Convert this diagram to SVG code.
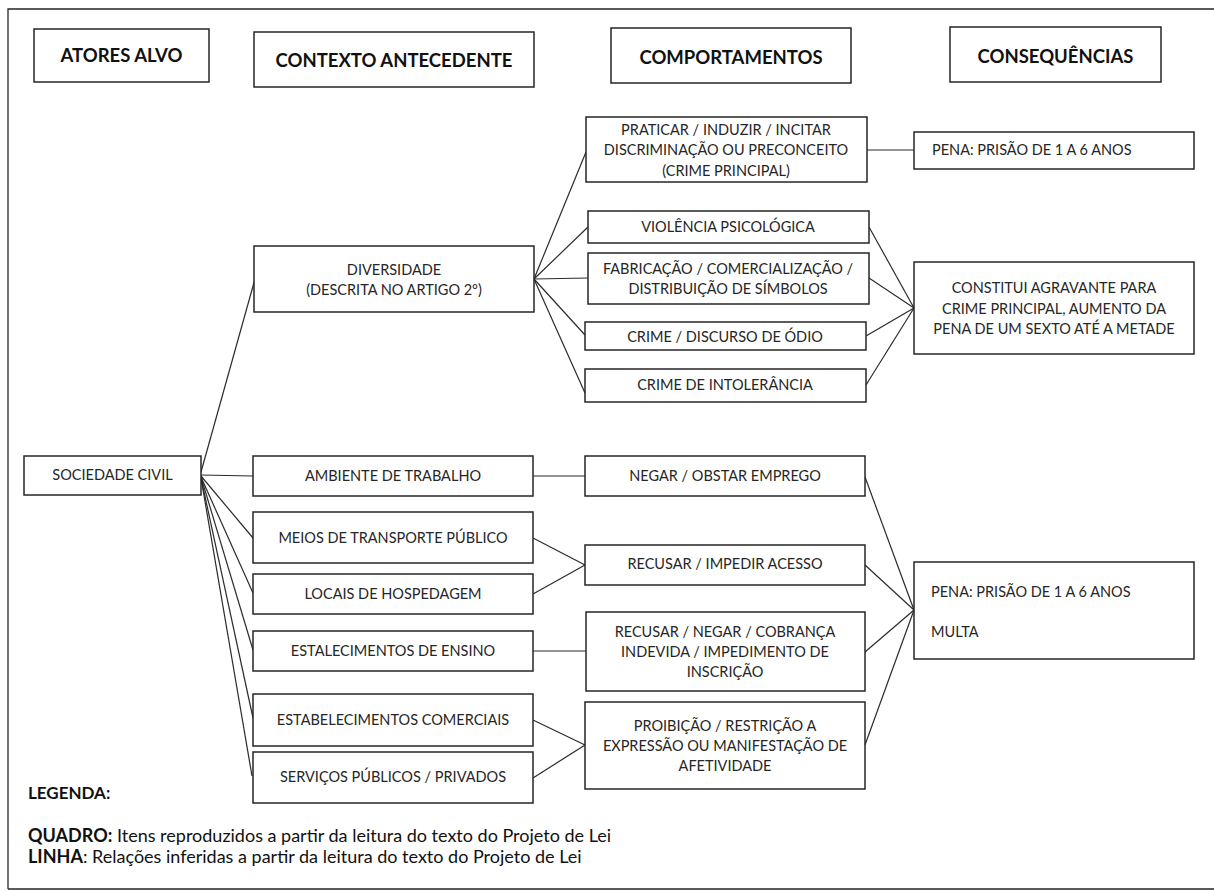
<svg xmlns="http://www.w3.org/2000/svg" width="1214" height="891" viewBox="0 0 1214 891">
<style>
.bg{fill:#fff}
.box{fill:#fff;stroke:#262626;stroke-width:1.5}
.frame{fill:none;stroke:#262626;stroke-width:1.3}
.ln{fill:none;stroke:#2b2b2b;stroke-width:1.2}
.t{font-family:"Lato","Liberation Sans",sans-serif;font-size:14.5px;fill:#262626;text-anchor:middle}
.tl{text-anchor:start}
.h{font-family:"Lato","Liberation Sans",sans-serif;font-size:18.5px;font-weight:bold;fill:#111;text-anchor:middle}
.lg{font-family:"Lato","Liberation Sans",sans-serif;font-size:18px;fill:#111}
.lgh{font-family:"Lato","Liberation Sans",sans-serif;font-size:17px;font-weight:bold;fill:#111}
.b{font-weight:bold}
</style>
<rect class="bg" x="0" y="0" width="1214" height="891"/>
<path class="frame" d="M8,889 V9 H1214 M8,889 H1214"/>

<g id="connectors">
<line class="ln" x1="201" y1="472" x2="255" y2="279"/>
<line class="ln" x1="201" y1="475" x2="253" y2="476"/>
<line class="ln" x1="201" y1="476" x2="253" y2="538"/>
<line class="ln" x1="201" y1="477" x2="253" y2="593"/>
<line class="ln" x1="201" y1="477" x2="253" y2="650"/>
<line class="ln" x1="201" y1="478" x2="253" y2="718"/>
<line class="ln" x1="201" y1="478" x2="252" y2="776"/>
<line class="ln" x1="534" y1="279" x2="586" y2="152"/>
<line class="ln" x1="534" y1="279" x2="588" y2="227"/>
<line class="ln" x1="534" y1="279" x2="588" y2="278"/>
<line class="ln" x1="534" y1="279" x2="585" y2="335"/>
<line class="ln" x1="534" y1="279" x2="585" y2="393"/>
<line class="ln" x1="867" y1="150" x2="914" y2="150"/>
<line class="ln" x1="869" y1="227" x2="914" y2="308"/>
<line class="ln" x1="869" y1="278" x2="914" y2="308"/>
<line class="ln" x1="866" y1="336" x2="914" y2="308"/>
<line class="ln" x1="866" y1="385" x2="914" y2="308"/>
<line class="ln" x1="533" y1="476" x2="585" y2="476"/>
<line class="ln" x1="533" y1="538" x2="585" y2="565"/>
<line class="ln" x1="533" y1="594" x2="585" y2="565"/>
<line class="ln" x1="533" y1="651" x2="586" y2="651"/>
<line class="ln" x1="533" y1="720" x2="585" y2="745"/>
<line class="ln" x1="533" y1="778" x2="585" y2="745"/>
<line class="ln" x1="865" y1="477" x2="914" y2="610"/>
<line class="ln" x1="865" y1="565" x2="914" y2="610"/>
<line class="ln" x1="865" y1="652" x2="914" y2="610"/>
<line class="ln" x1="865" y1="745" x2="914" y2="610"/>
</g>

<g id="h-atores"><rect class="box" x="34" y="29" width="175" height="53"/><text class="h" x="121.5" y="62">ATORES ALVO</text></g>
<g id="h-contexto"><rect class="box" x="254" y="32" width="280" height="55"/><text class="h" x="394" y="67">CONTEXTO ANTECEDENTE</text></g>
<g id="h-comportamentos"><rect class="box" x="611" y="28" width="240" height="55"/><text class="h" x="731" y="64">COMPORTAMENTOS</text></g>
<g id="h-consequencias"><rect class="box" x="950" y="27" width="211" height="55"/><text class="h" x="1055.5" y="63">CONSEQUÊNCIAS</text></g>

<g id="sociedade"><rect class="box" x="24" y="456" width="177" height="39"/><text class="t" x="112.5" y="480">SOCIEDADE CIVIL</text></g>

<g id="diversidade"><rect class="box" x="254" y="246" width="280" height="66"/><text class="t" x="394" y="275">DIVERSIDADE</text><text class="t" x="394" y="295">(DESCRITA NO ARTIGO 2º)</text></g>
<g id="ambiente"><rect class="box" x="253" y="456" width="280" height="40"/><text class="t" x="393" y="481">AMBIENTE DE TRABALHO</text></g>
<g id="meios"><rect class="box" x="253" y="512" width="280" height="51"/><text class="t" x="393" y="543">MEIOS DE TRANSPORTE PÚBLICO</text></g>
<g id="locais"><rect class="box" x="253" y="574" width="280" height="40"/><text class="t" x="393" y="599">LOCAIS DE HOSPEDAGEM</text></g>
<g id="ensino"><rect class="box" x="253" y="631" width="280" height="40"/><text class="t" x="393" y="656">ESTALECIMENTOS DE ENSINO</text></g>
<g id="comerciais"><rect class="box" x="253" y="694" width="280" height="52"/><text class="t" x="393" y="725">ESTABELECIMENTOS COMERCIAIS</text></g>
<g id="servicos"><rect class="box" x="253" y="752" width="280" height="51"/><text class="t" x="393" y="782">SERVIÇOS PÚBLICOS / PRIVADOS</text></g>

<g id="praticar"><rect class="box" x="586" y="117" width="281" height="65"/><text class="t" x="726" y="135">PRATICAR / INDUZIR / INCITAR</text><text class="t" x="726" y="155">DISCRIMINAÇÃO OU PRECONCEITO</text><text class="t" x="726" y="176">(CRIME PRINCIPAL)</text></g>
<g id="violencia"><rect class="box" x="588" y="211" width="281" height="32"/><text class="t" x="728" y="232">VIOLÊNCIA PSICOLÓGICA</text></g>
<g id="fabricacao"><rect class="box" x="588" y="253" width="281" height="51"/><text class="t" x="728" y="274">FABRICAÇÃO / COMERCIALIZAÇÃO /</text><text class="t" x="728" y="294">DISTRIBUIÇÃO DE SÍMBOLOS</text></g>
<g id="discurso"><rect class="box" x="585" y="322" width="281" height="28"/><text class="t" x="725" y="342">CRIME / DISCURSO DE ÓDIO</text></g>
<g id="intolerancia"><rect class="box" x="585" y="369" width="281" height="33"/><text class="t" x="725" y="390">CRIME DE INTOLERÂNCIA</text></g>
<g id="negar"><rect class="box" x="585" y="456" width="280" height="40"/><text class="t" x="725" y="481">NEGAR / OBSTAR EMPREGO</text></g>
<g id="recusar-acesso"><rect class="box" x="585" y="545" width="280" height="40"/><text class="t" x="725" y="569">RECUSAR / IMPEDIR ACESSO</text></g>
<g id="recusar-negar"><rect class="box" x="586" y="612" width="279" height="79"/><text class="t" x="725" y="637">RECUSAR / NEGAR / COBRANÇA</text><text class="t" x="725" y="657">INDEVIDA / IMPEDIMENTO DE</text><text class="t" x="725" y="677">INSCRIÇÃO</text></g>
<g id="proibicao"><rect class="box" x="585" y="702" width="280" height="87"/><text class="t" x="725" y="731">PROIBIÇÃO / RESTRIÇÃO A</text><text class="t" x="725" y="751">EXPRESSÃO OU MANIFESTAÇÃO DE</text><text class="t" x="725" y="771">AFETIVIDADE</text></g>

<g id="pena1"><rect class="box" x="914" y="132" width="280" height="37"/><text class="t tl" x="932" y="155">PENA: PRISÃO DE 1 A 6 ANOS</text></g>
<g id="agravante"><rect class="box" x="914" y="262" width="280" height="92"/><text class="t" x="1054" y="293">CONSTITUI AGRAVANTE PARA</text><text class="t" x="1054" y="314">CRIME PRINCIPAL, AUMENTO DA</text><text class="t" x="1054" y="334">PENA DE UM SEXTO ATÉ A METADE</text></g>
<g id="pena2"><rect class="box" x="914" y="562" width="280" height="97"/><text class="t tl" x="931" y="597">PENA: PRISÃO DE 1 A 6 ANOS</text><text class="t tl" x="931" y="637">MULTA</text></g>

<g id="legenda">
<text class="lgh" x="28" y="799">LEGENDA:</text>
<text class="lg" x="28" y="842"><tspan class="b">QUADRO:</tspan> Itens reproduzidos a partir da leitura do texto do Projeto de Lei</text>
<text class="lg" x="28" y="863"><tspan class="b">LINHA</tspan>: Relações inferidas a partir da leitura do texto do Projeto de Lei</text>
</g>
</svg>
